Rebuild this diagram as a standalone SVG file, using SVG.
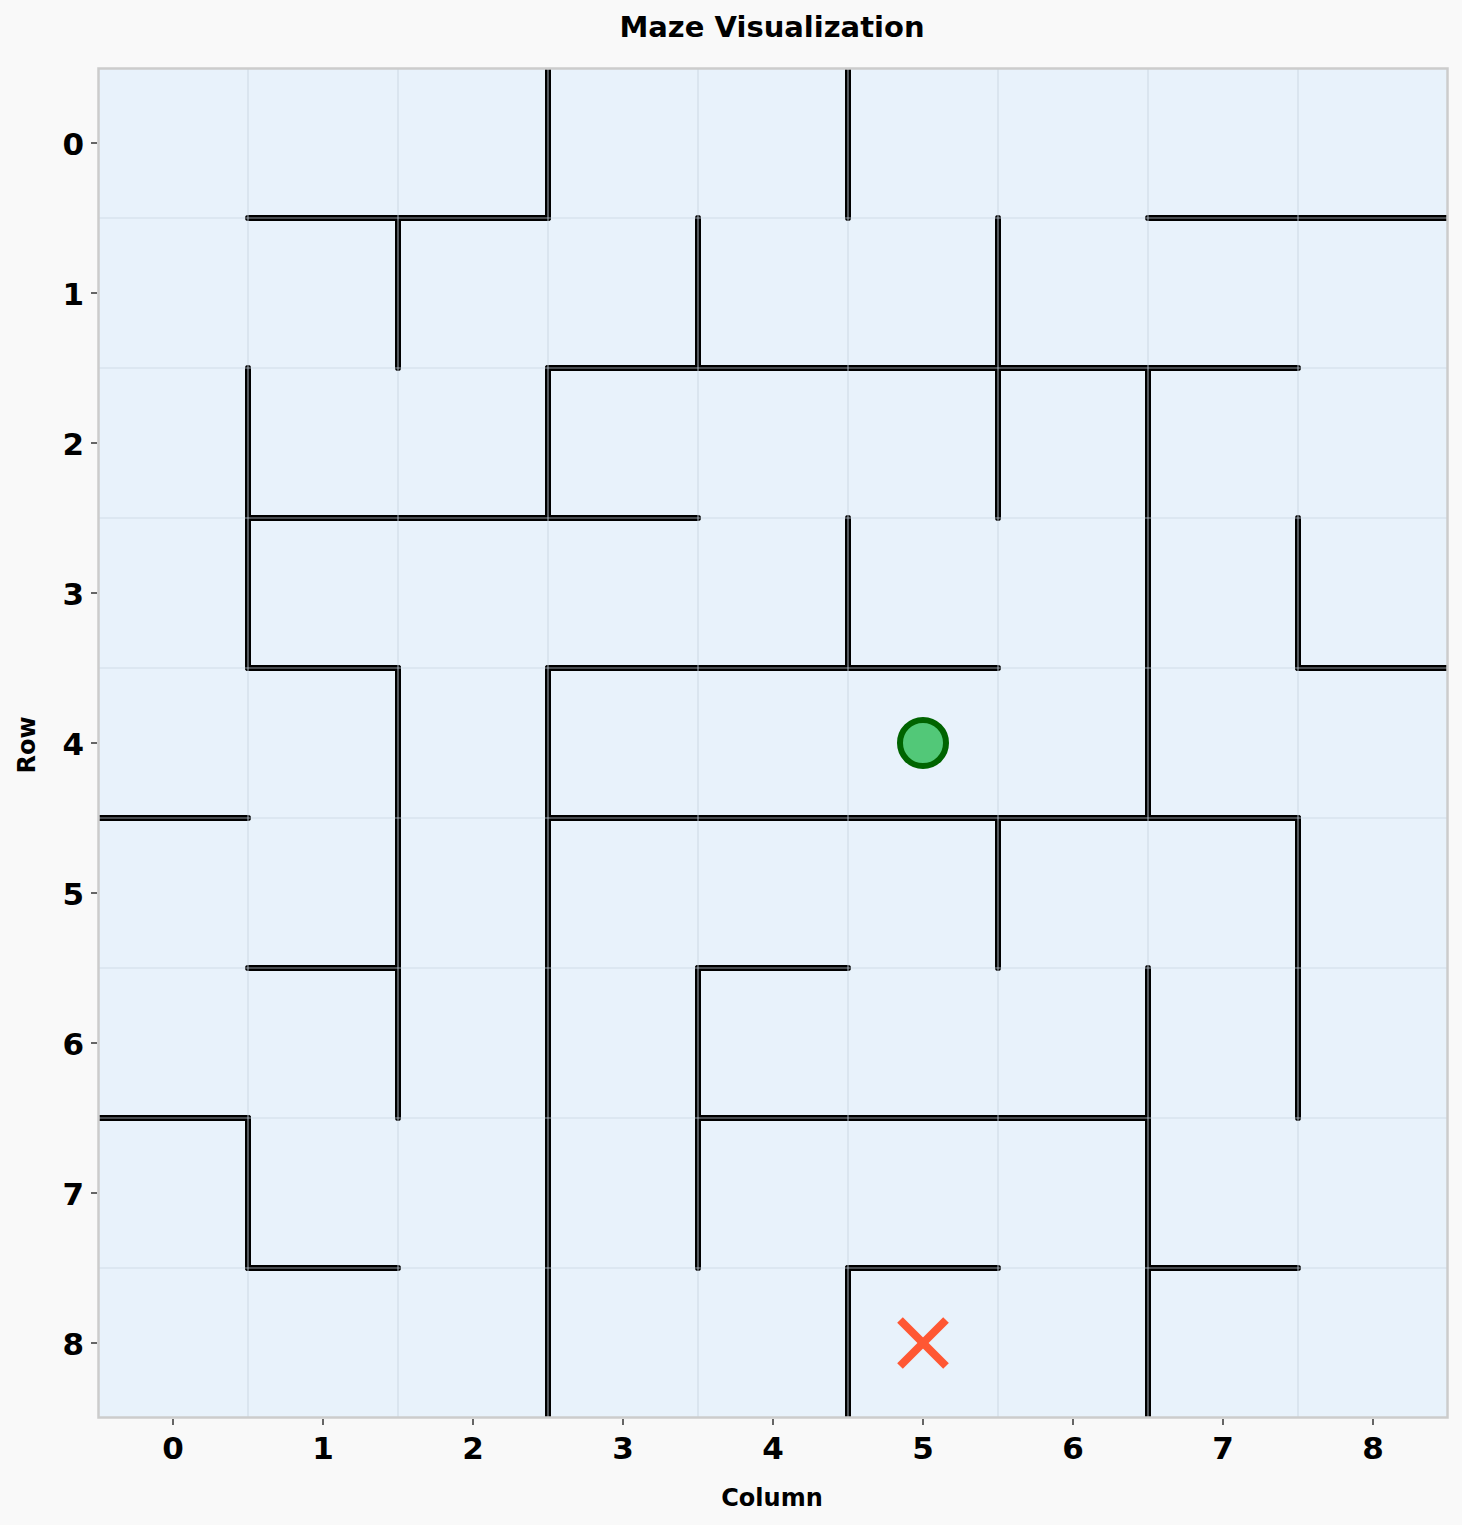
<svg xmlns="http://www.w3.org/2000/svg" width="1462" height="1525" viewBox="0 0 1462 1525">
<defs>
<clipPath id="ax"><rect x="98" y="68" width="1350" height="1350"/></clipPath>
</defs>
<style>
.t{font-family:"DejaVu Sans",sans-serif;font-weight:bold;fill:#000}
.tick{font-size:31px}
.grid line{stroke:#c8d4e0;stroke-width:1.2;opacity:0.7}
.walls line{stroke:#000;stroke-width:6;stroke-linecap:round}
.tk line{stroke:#333;stroke-width:1.5}
</style>
<rect x="0" y="0" width="1462" height="1525" fill="#f9f9f9"/>
<g id="axes">
<rect x="98" y="68" width="1350" height="1350" fill="#e8f2fb"/>
</g>
<g id="walls" class="walls" clip-path="url(#ax)">
<line x1="548" y1="68" x2="548" y2="218"/>
<line x1="848" y1="68" x2="848" y2="218"/>
<line x1="398" y1="218" x2="398" y2="368"/>
<line x1="698" y1="218" x2="698" y2="368"/>
<line x1="998" y1="218" x2="998" y2="518"/>
<line x1="248" y1="368" x2="248" y2="668"/>
<line x1="548" y1="368" x2="548" y2="518"/>
<line x1="1148" y1="368" x2="1148" y2="818"/>
<line x1="848" y1="518" x2="848" y2="668"/>
<line x1="1298" y1="518" x2="1298" y2="668"/>
<line x1="398" y1="668" x2="398" y2="1118"/>
<line x1="548" y1="668" x2="548" y2="1418"/>
<line x1="998" y1="818" x2="998" y2="968"/>
<line x1="1298" y1="818" x2="1298" y2="1118"/>
<line x1="698" y1="968" x2="698" y2="1268"/>
<line x1="1148" y1="968" x2="1148" y2="1418"/>
<line x1="248" y1="1118" x2="248" y2="1268"/>
<line x1="848" y1="1268" x2="848" y2="1418"/>
<line x1="248" y1="218" x2="548" y2="218"/>
<line x1="1148" y1="218" x2="1448" y2="218"/>
<line x1="548" y1="368" x2="1298" y2="368"/>
<line x1="248" y1="518" x2="698" y2="518"/>
<line x1="248" y1="668" x2="398" y2="668"/>
<line x1="548" y1="668" x2="998" y2="668"/>
<line x1="1298" y1="668" x2="1448" y2="668"/>
<line x1="98" y1="818" x2="248" y2="818"/>
<line x1="548" y1="818" x2="1298" y2="818"/>
<line x1="248" y1="968" x2="398" y2="968"/>
<line x1="698" y1="968" x2="848" y2="968"/>
<line x1="98" y1="1118" x2="248" y2="1118"/>
<line x1="698" y1="1118" x2="1148" y2="1118"/>
<line x1="248" y1="1268" x2="398" y2="1268"/>
<line x1="848" y1="1268" x2="998" y2="1268"/>
<line x1="1148" y1="1268" x2="1298" y2="1268"/>
</g>
<g id="grid" class="grid">
<line x1="248" y1="68" x2="248" y2="1418"/>
<line x1="398" y1="68" x2="398" y2="1418"/>
<line x1="548" y1="68" x2="548" y2="1418"/>
<line x1="698" y1="68" x2="698" y2="1418"/>
<line x1="848" y1="68" x2="848" y2="1418"/>
<line x1="998" y1="68" x2="998" y2="1418"/>
<line x1="1148" y1="68" x2="1148" y2="1418"/>
<line x1="1298" y1="68" x2="1298" y2="1418"/>
<line x1="98" y1="218" x2="1448" y2="218"/>
<line x1="98" y1="368" x2="1448" y2="368"/>
<line x1="98" y1="518" x2="1448" y2="518"/>
<line x1="98" y1="668" x2="1448" y2="668"/>
<line x1="98" y1="818" x2="1448" y2="818"/>
<line x1="98" y1="968" x2="1448" y2="968"/>
<line x1="98" y1="1118" x2="1448" y2="1118"/>
<line x1="98" y1="1268" x2="1448" y2="1268"/>
</g>
<g id="start">
<circle cx="923" cy="743" r="23" fill="#52c878" stroke="#006400" stroke-width="6"/>
</g>
<g id="goal">
<line x1="900" y1="1320" x2="946" y2="1366" stroke="#ff5733" stroke-width="8"/>
<line x1="946" y1="1320" x2="900" y2="1366" stroke="#ff5733" stroke-width="8"/>
</g>
<g id="frame">
<rect x="98.5" y="68.5" width="1349" height="1349" fill="none" stroke="#cccccc" stroke-width="2.5"/>
</g>
<g id="ticks" class="tk">
<line x1="173" y1="1419" x2="173" y2="1425"/>
<line x1="323" y1="1419" x2="323" y2="1425"/>
<line x1="473" y1="1419" x2="473" y2="1425"/>
<line x1="623" y1="1419" x2="623" y2="1425"/>
<line x1="773" y1="1419" x2="773" y2="1425"/>
<line x1="923" y1="1419" x2="923" y2="1425"/>
<line x1="1073" y1="1419" x2="1073" y2="1425"/>
<line x1="1223" y1="1419" x2="1223" y2="1425"/>
<line x1="1373" y1="1419" x2="1373" y2="1425"/>
<line x1="91" y1="143" x2="97" y2="143"/>
<line x1="91" y1="293" x2="97" y2="293"/>
<line x1="91" y1="443" x2="97" y2="443"/>
<line x1="91" y1="593" x2="97" y2="593"/>
<line x1="91" y1="743" x2="97" y2="743"/>
<line x1="91" y1="893" x2="97" y2="893"/>
<line x1="91" y1="1043" x2="97" y2="1043"/>
<line x1="91" y1="1193" x2="97" y2="1193"/>
<line x1="91" y1="1343" x2="97" y2="1343"/>
</g>
<g id="xlabels" class="t tick" text-anchor="middle">
<text x="173" y="1459">0</text>
<text x="323" y="1459">1</text>
<text x="473" y="1459">2</text>
<text x="623" y="1459">3</text>
<text x="773" y="1459">4</text>
<text x="923" y="1459">5</text>
<text x="1073" y="1459">6</text>
<text x="1223" y="1459">7</text>
<text x="1373" y="1459">8</text>
</g>
<g id="ylabels" class="t tick" text-anchor="end">
<text x="84" y="155">0</text>
<text x="84" y="305">1</text>
<text x="84" y="455">2</text>
<text x="84" y="605">3</text>
<text x="84" y="755">4</text>
<text x="84" y="905">5</text>
<text x="84" y="1055">6</text>
<text x="84" y="1205">7</text>
<text x="84" y="1355">8</text>
</g>
<g id="labels" class="t">
<text x="772" y="37" text-anchor="middle" font-size="29">Maze Visualization</text>
<text x="772" y="1506" text-anchor="middle" font-size="24">Column</text>
<text x="35" y="745" text-anchor="middle" font-size="24" transform="rotate(-90 35 745)">Row</text>
</g>
</svg>
